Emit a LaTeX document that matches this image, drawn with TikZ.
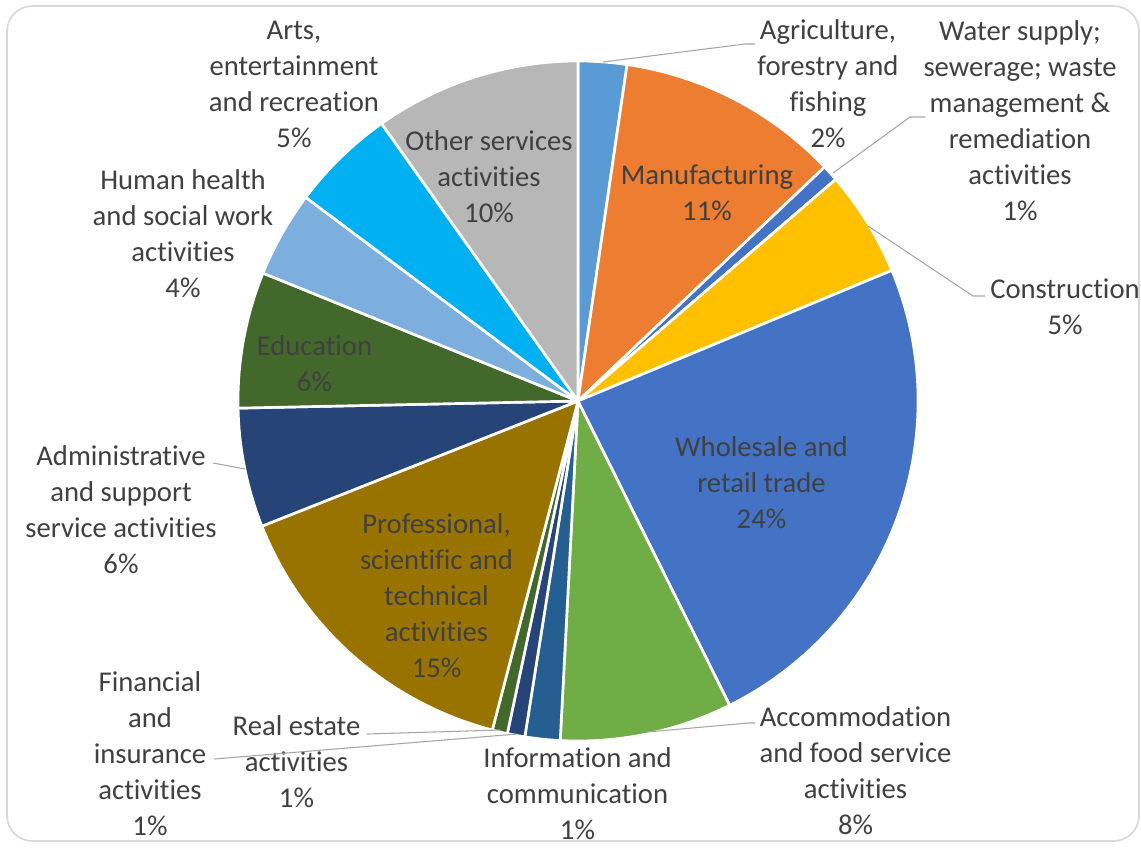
\documentclass[tikz,border=0pt]{standalone}
\usepackage{fontspec}
\setmainfont{Carlito}[Ligatures={NoCommon}]
\definecolor{txtgray}{HTML}{404040}
\definecolor{leadgray}{HTML}{A6A6A6}
\definecolor{framegray}{HTML}{D9D9D9}
\definecolor{cAgri}{HTML}{5B9BD5}
\definecolor{cManu}{HTML}{ED7D31}
\definecolor{cWater}{HTML}{4472C4}
\definecolor{cCons}{HTML}{FFC000}
\definecolor{cWhole}{HTML}{4472C4}
\definecolor{cAccom}{HTML}{70AD47}
\definecolor{cInfo}{HTML}{255E91}
\definecolor{cReal}{HTML}{264478}
\definecolor{cFin}{HTML}{43682B}
\definecolor{cProf}{HTML}{997300}
\definecolor{cAdmin}{HTML}{264478}
\definecolor{cEdu}{HTML}{43682B}
\definecolor{cHealth}{HTML}{7CAFDD}
\definecolor{cArts}{HTML}{00B0F0}
\definecolor{cOther}{HTML}{B7B7B7}
\newcommand\pieslice[3]{%
  \path[fill=#3, slice] (c) -- ++(#1-90:340) arc[start angle=#1-90, end angle=#2-90, radius=340] -- cycle;}
\begin{document}
\begin{tikzpicture}[x=0.75pt,y=-0.75pt,
  lbl/.style={text=txtgray, align=center, inner sep=0pt, font=\fontsize{21.5}{27}\selectfont},
  slice/.style={draw=white, line width=2pt, line join=round},
  leader/.style={draw=leadgray, line width=0.8pt}]
\useasboundingbox (0,0) rectangle (1141,847);
\draw[framegray, line width=1.3pt, rounded corners=19pt] (7,6) rectangle (1139,841);
\coordinate (c) at (578,401);
% slices, clockwise from top
\pieslice{0}{8.3}{cAgri}
\pieslice{8.3}{46.5}{cManu}
\pieslice{46.5}{49.3}{cWater}
\pieslice{49.3}{67.4}{cCons}
\pieslice{67.4}{153.5}{cWhole}
\pieslice{153.5}{183}{cAccom}
\pieslice{183}{189}{cInfo}
\pieslice{189}{192}{cReal}
\pieslice{192}{194.6}{cFin}
\pieslice{194.6}{248.4}{cProf}
\pieslice{248.4}{268.8}{cAdmin}
\pieslice{268.8}{292.1}{cEdu}
\pieslice{292.1}{306.8}{cHealth}
\pieslice{306.8}{324.7}{cArts}
\pieslice{324.7}{360}{cOther}
% labels
\node[lbl] (agri) at (828,84) {Agriculture,\\forestry and\\fishing\\2\%};
\node[lbl] (water) at (1020,120.5) {Water supply;\\sewerage; waste\\management \&\\remediation\\activities\\1\%};
\node[lbl] (cons) at (1065,307) {Construction\\5\%};
\node[lbl] (accom) at (855.5,771) {Accommodation\\and food service\\activities\\8\%};
\node[lbl] (info) at (577.5,793.5) {Information and\\communication\\1\%};
\node[lbl] (real) at (296.5,761.5) {Real estate\\activities\\1\%};
\node[lbl] (fin) at (150,754) {Financial\\and\\insurance\\activities\\1\%};
\node[lbl] (admin) at (121,510) {Administrative\\and support\\service activities\\6\%};
\node[lbl] (health) at (183,233.5) {Human health\\and social work\\activities\\4\%};
\node[lbl] (arts) at (294,84) {Arts,\\entertainment\\and recreation\\5\%};
\node[lbl] (other) at (489,176.5) {Other services\\activities\\10\%};
\node[lbl] (manu) at (707,193) {Manufacturing\\11\%};
\node[lbl] (whole) at (761.5,482.5) {Wholesale and\\retail trade\\24\%};
\node[lbl] (prof) at (436.5,595.5) {Professional,\\scientific and\\technical\\activities\\15\%};
\node[lbl] (edu) at (314.5,364) {Education\\6\%};
% leader lines
\coordinate (agriA) at (603,62);  \coordinate (agriB) at (745,44);  \coordinate (agriC) at (755,44);
\coordinate (waterA) at (833,173); \coordinate (waterB) at (910,117); \coordinate (waterC) at (925,117);
\coordinate (consA) at (868,226); \coordinate (consB) at (973,296); \coordinate (consC) at (985,296);
\coordinate (accomA) at (647,732); \coordinate (accomB) at (748,723); \coordinate (accomC) at (755,723);
\coordinate (realA) at (500,730); \coordinate (realB) at (367,734);
\coordinate (finA) at (517,734); \coordinate (finB) at (214,759);
\coordinate (adminA) at (245,469); \coordinate (adminB) at (213,463);
\draw[leader] (agriA) -- (agriB) -- (agriC);
\draw[leader] (waterA) -- (waterB) -- (waterC);
\draw[leader] (consA) -- (consB) -- (consC);
\draw[leader] (accomA) -- (accomB) -- (accomC);
\draw[leader] (realA) -- (realB);
\draw[leader] (finA) -- (finB);
\draw[leader] (adminA) -- (adminB);
\end{tikzpicture}
\end{document}
